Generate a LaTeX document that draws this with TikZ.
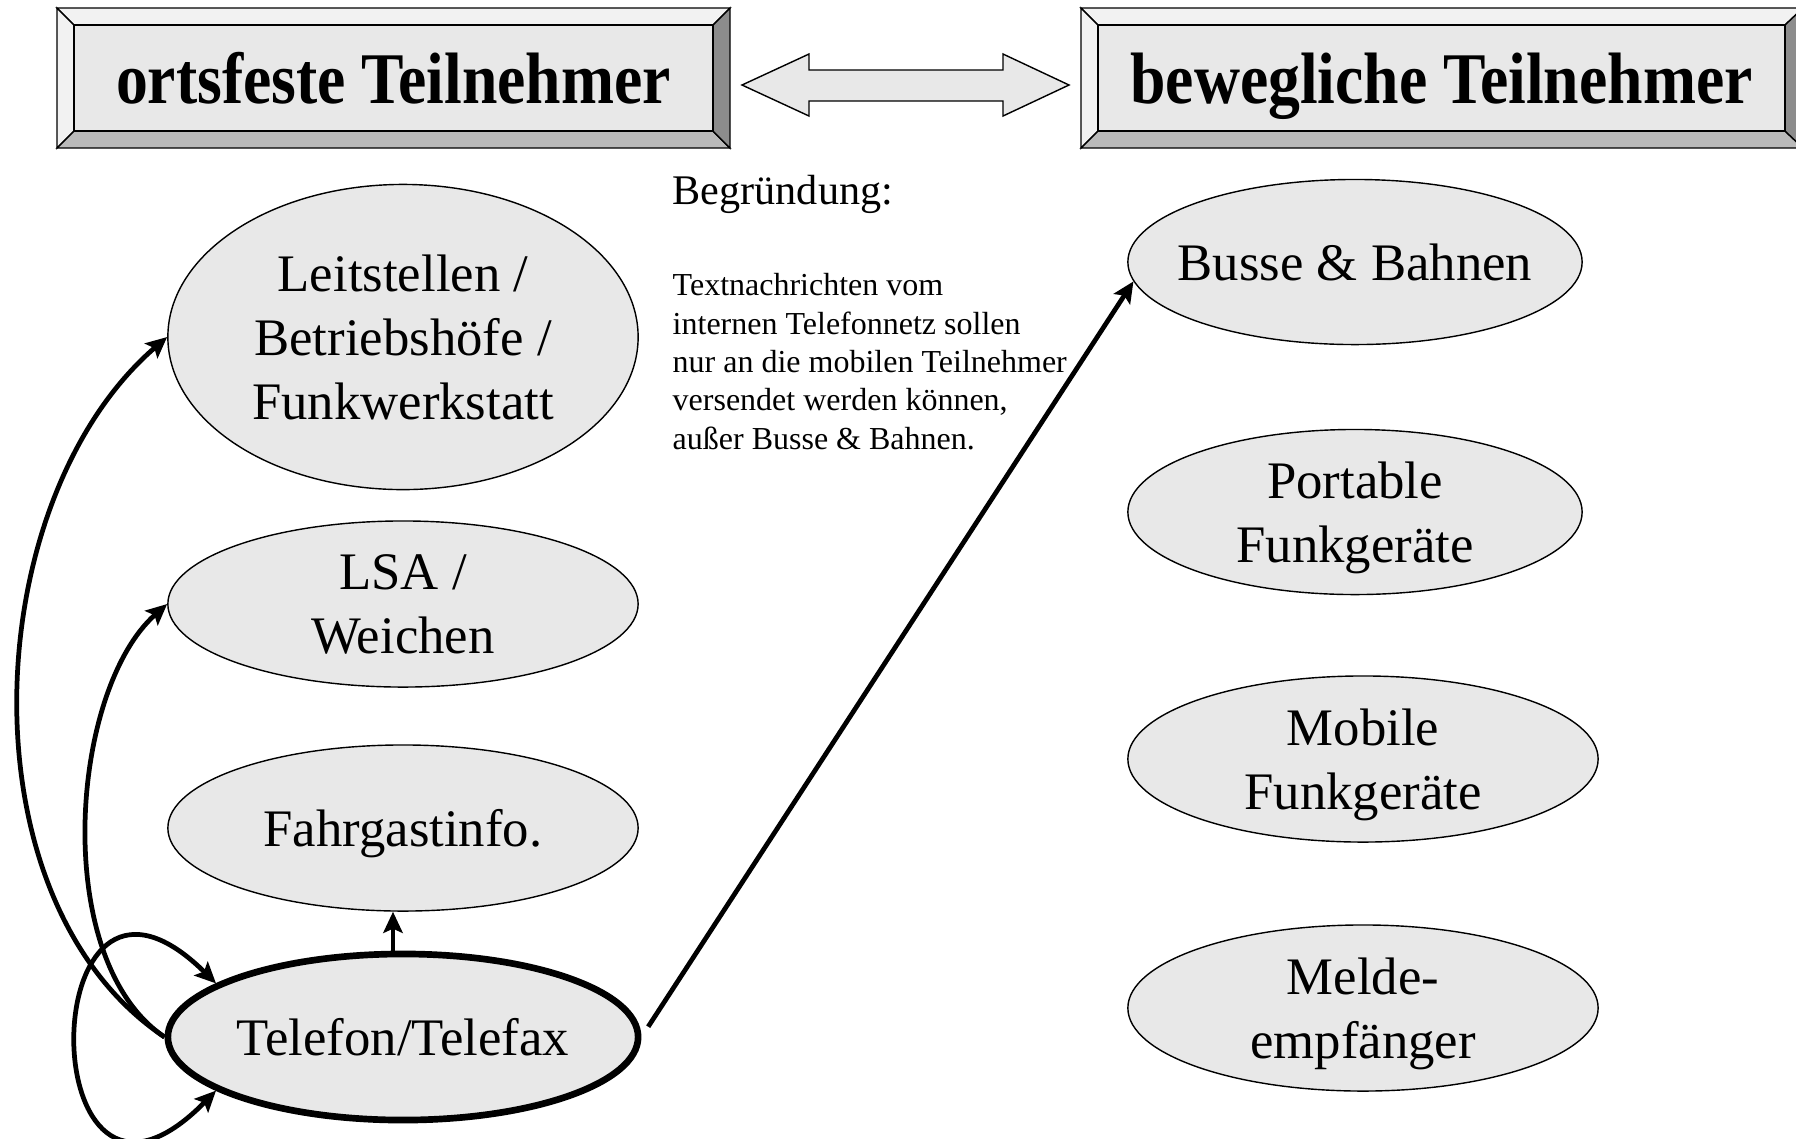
\documentclass[tikz,border=0pt]{standalone}
\usepackage{fontspec}
\setmainfont{Liberation Serif}
\newfontfamily\headfont[FakeStretch=0.875]{Liberation Serif}
\usetikzlibrary{shapes.geometric,arrows.meta}

\definecolor{facegray}{gray}{0.91}
\definecolor{lightfacet}{gray}{0.95}
\definecolor{lowfacet}{gray}{0.73}
\definecolor{darkfacet}{gray}{0.55}

\tikzset{
  >={Stealth[length=6pt,width=5.5pt,inset=1.2pt]},
  member/.style={ellipse, draw=black, line width=0.4pt, fill=facegray, align=center, inner sep=0pt, font=\fontsize{15}{18.2}\selectfont},
  wide/.style={minimum width=4.70cm, minimum height=1.66cm},
  facet/.style={draw=black, line width=0.4pt},
  headtext/.style={font=\headfont\bfseries\fontsize{20.7}{24}\selectfont, inner sep=0pt, anchor=base},
  conn/.style={line width=1.35pt, ->},
}

\begin{document}
\begin{tikzpicture}[x=0.01cm, y=-0.01cm]
  \useasboundingbox (0,0) rectangle (1796,1138);

  % header boxes
  \draw[facet, fill=lightfacet] (57,8) -- (730,8) -- (713,25) -- (74,25) -- cycle;
  \draw[facet, fill=lightfacet] (57,8) -- (74,25) -- (74,131) -- (57,148) -- cycle;
  \draw[facet, fill=lowfacet] (57,148) -- (74,131) -- (713,131) -- (730,148) -- cycle;
  \draw[facet, fill=darkfacet] (730,8) -- (730,148) -- (713,131) -- (713,25) -- cycle;
  \draw[facet, fill=facegray] (74,25) rectangle (713,131);

  \draw[facet, fill=lightfacet] (1081,8) -- (1803,8) -- (1785,25) -- (1098,25) -- cycle;
  \draw[facet, fill=lightfacet] (1081,8) -- (1098,25) -- (1098,131) -- (1081,148) -- cycle;
  \draw[facet, fill=lowfacet] (1081,148) -- (1098,131) -- (1785,131) -- (1803,148) -- cycle;
  \draw[facet, fill=darkfacet] (1803,8) -- (1803,148) -- (1785,131) -- (1785,25) -- cycle;
  \draw[facet, fill=facegray] (1098,25) rectangle (1785,131);

  \node[headtext] (fixed) at (393.5,103) {ortsfeste Teilnehmer};
  \node[headtext] (moving) at (1441.5,103) {bewegliche Teilnehmer};

  \draw[facet, fill=facegray] (742,85) -- (809,54) -- (809,70) -- (1003,70) -- (1003,54)
    -- (1069,85) -- (1003,116) -- (1003,101) -- (809,101) -- (809,116) -- cycle;

  % left side
  \node[member, minimum width=4.70cm, minimum height=3.05cm] (leit) at (403,337) {Leitstellen /\\Betriebshöfe /\\Funkwerkstatt};
  \node[member, wide] (lsa) at (403,604) {LSA /\\Weichen};
  \node[member, wide, text depth=0pt] (fahr) at (403,828) {Fahrgastinfo.};
  \node[member, wide, line width=1.9pt] (tel) at (403,1037) {Telefon/Telefax};

  % right side
  \node[member, minimum width=4.54cm, minimum height=1.65cm, inner xsep=-0.2cm] (bus) at (1355,262) {Busse \& Bahnen};
  \node[member, minimum width=4.54cm, minimum height=1.65cm, text depth=0pt] (port) at (1355,512) {Portable\\Funkgeräte};
  \node[member, wide, text depth=0pt] (mob) at (1363,759) {Mobile\\Funkgeräte};
  \node[member, wide, text depth=0pt] (melde) at (1363,1008) {Melde-\\empfänger};

  % note
  \node[anchor=base west, inner sep=0pt, font=\fontsize{12}{14}\selectfont] (reason) at (672,204) {Begründung:};
  \node[anchor=north west, inner sep=0pt, align=left, font=\fontsize{9.1}{10.9}\selectfont] (why) at (672,273)
    {Textnachrichten vom\\internen Telefonnetz sollen\\nur an die mobilen Teilnehmer\\versendet werden können,\\außer Busse \& Bahnen.};

  \draw[conn] ([xshift=-0.1cm]tel.north) -- ([xshift=-0.1cm]fahr.south);
  \draw[conn, shorten <=3.5pt] (tel.east) -- (bus.185);
  \draw[conn] (tel.west) .. controls (-40,900) and (-22,500) .. (leit.west);
  \draw[conn] (tel.west) .. controls (50,960) and (70,690) .. (lsa.west);
  \draw[line width=1.35pt, <->] (tel.164) .. controls (30,800) and (30,1280) .. (tel.196);
\end{tikzpicture}
\end{document}
